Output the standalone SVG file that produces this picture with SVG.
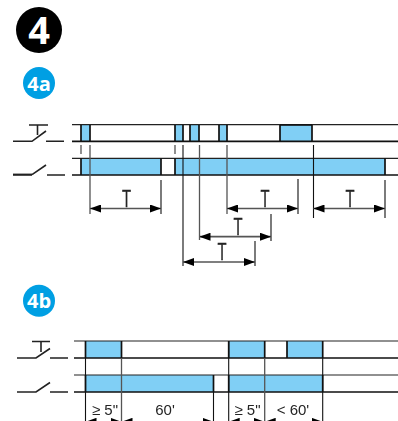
<svg xmlns="http://www.w3.org/2000/svg" width="398" height="421" viewBox="0 0 398 421">
<style>
.b{fill:#80cff5;stroke:none}
.w{fill:none;stroke:#111;stroke-width:1.7}
.t{fill:none;stroke:#222;stroke-width:1.6}
.n{fill:none;stroke:#222;stroke-width:1.2}
.g{fill:none;stroke:#555;stroke-width:1.3}
.k{fill:none;stroke:#111;stroke-width:1.1}
.a{fill:none;stroke:#555;stroke-width:1.7;marker-start:url(#as);marker-end:url(#ae)}
.tt{font-family:"Liberation Sans",Arial,sans-serif;font-size:24px;fill:#222;stroke:#222;stroke-width:.3;text-anchor:middle}
.lb{font-family:"Liberation Sans",Arial,sans-serif;font-size:15px;fill:#222;text-anchor:middle}
.h{font-family:"Open Sans",sans-serif;font-weight:700;fill:#fff;text-anchor:middle}
</style>
<defs>
<marker id="ae" markerUnits="userSpaceOnUse" markerWidth="11" markerHeight="9" refX="11" refY="4" orient="auto"><path d="M0 0L11 4L0 8Z" fill="#000"/></marker>
<marker id="as" markerUnits="userSpaceOnUse" markerWidth="11" markerHeight="9" refX="0" refY="4" orient="auto"><path d="M11 0L0 4L11 8Z" fill="#000"/></marker>
</defs>
<g id="badge-4"><circle cx="39" cy="30" r="23" fill="#000"/><text class="h" x="39" y="44" font-size="38">4</text></g>
<g id="badge-4a"><circle cx="39" cy="83" r="16" fill="#009fe3"/><text class="h" x="39" y="90.500" font-size="20">4a</text></g>
<g id="badge-4b"><circle cx="39" cy="300.700" r="16" fill="#009fe3"/><text class="h" x="39" y="308" font-size="20">4b</text></g>

<g id="pushbutton-4a">
<path class="t" d="M13 141.300H32L46 131M29 125H48M37.500 125V135M46 141.300H64"/>
</g>
<g id="switch-4a">
<path class="t" d="M32 174.700L46 165M47 175H65"/><path class="t" style="stroke-width:2.200" d="M13 174.700H32"/>
</g>
<g id="pushbutton-4b">
<path class="t" d="M17 358H36L50 348.500M32 341.500H50M41 341.500V352M50 358H68"/>
</g>
<g id="switch-4b">
<path class="t" d="M17 392H36L50 382.500M50 392H68"/>
</g>

<g id="signals-4a">
<rect class="b" x="81" y="125" width="9" height="16"/>
<rect class="b" x="175" y="125" width="8" height="16"/>
<rect class="b" x="190" y="125" width="9" height="16"/>
<rect class="b" x="219" y="125" width="8" height="16"/>
<rect class="b" x="280" y="125" width="32" height="16"/>
<rect class="b" x="81" y="158" width="80" height="17"/>
<rect class="b" x="175" y="158" width="210" height="17"/>
<path class="n" d="M72 124.700H398M72 158.300H398"/>
<path class="w" d="M72 141.300H398M81 141.300V125M90 141.300V125M175 141.300V125M183 141.300V125M190 141.300V125M199 141.300V125M219 141.300V125M227 141.300V125M280 141.300V125M312 141.300V125M280 125H312"/>
<path class="w" d="M72 175H398M81 175V158.300M161 175V158.300M175 175V158.300M385 175V158.300"/>
</g>
<g id="signals-4b">
<rect class="b" x="86" y="341" width="36" height="17"/>
<rect class="b" x="229" y="341" width="36" height="17"/>
<rect class="b" x="287" y="341" width="36" height="17"/>
<rect class="b" x="86" y="375" width="128" height="17"/>
<rect class="b" x="229" y="375" width="94" height="17"/>
<path class="n" d="M74 341H398M74 375H398"/>
<path class="w" d="M74 358H398M85.500 358V341M121.500 358V341M228.700 358V341M264.700 358V341M287 358V341M322.700 358V341"/>
<path class="w" d="M74 392H398M85.500 392V375M213.500 392V375M228.700 392V375M322.700 392V375"/>
</g>

<g id="connectors">
<path class="g" d="M81 145V154M175 145V154M90 145V214M199.500 145V240M227 145V214"/>
<path class="k" d="M183 145V266M313.500 145V218M161 180V214M298 179V214M385 180V218M271 214V241M255 241V266"/>
<path class="a" d="M90 208.500H161"/>
<path class="a" d="M227 208.500H298"/>
<path class="a" d="M313.500 208.500H385"/>
<path class="a" d="M199.500 236.700H271"/>
<path class="a" d="M183 262H255"/>
<path class="k" d="M85.500 358V421M213.500 392V421M228.700 341V421M322.700 358V421"/>
<path class="g" d="M121.500 358V421M264.700 358V421"/>
<path class="a" d="M85.500 421.800H121.500"/>
<path class="a" d="M121.500 421.800H213.500"/>
<path class="a" d="M228.700 421.800H264.700"/>
<path class="a" d="M264.700 421.800H322.700"/>
</g>

<g id="labels" opacity=".99">
<text class="tt" transform="translate(126.500 207) scale(.62 1)">T</text>
<text class="tt" transform="translate(265 207) scale(.62 1)">T</text>
<text class="tt" transform="translate(350 207) scale(.62 1)">T</text>
<text class="tt" transform="translate(238 234.500) scale(.62 1)">T</text>
<text class="tt" transform="translate(222 260) scale(.62 1)">T</text>
<text class="lb" x="105" y="414.500">≥ 5"</text>
<text class="lb" x="165" y="414.500">60'</text>
<text class="lb" x="247.500" y="414.500">≥ 5"</text>
<text class="lb" x="293" y="414.500">&lt; 60'</text>
</g>
</svg>
